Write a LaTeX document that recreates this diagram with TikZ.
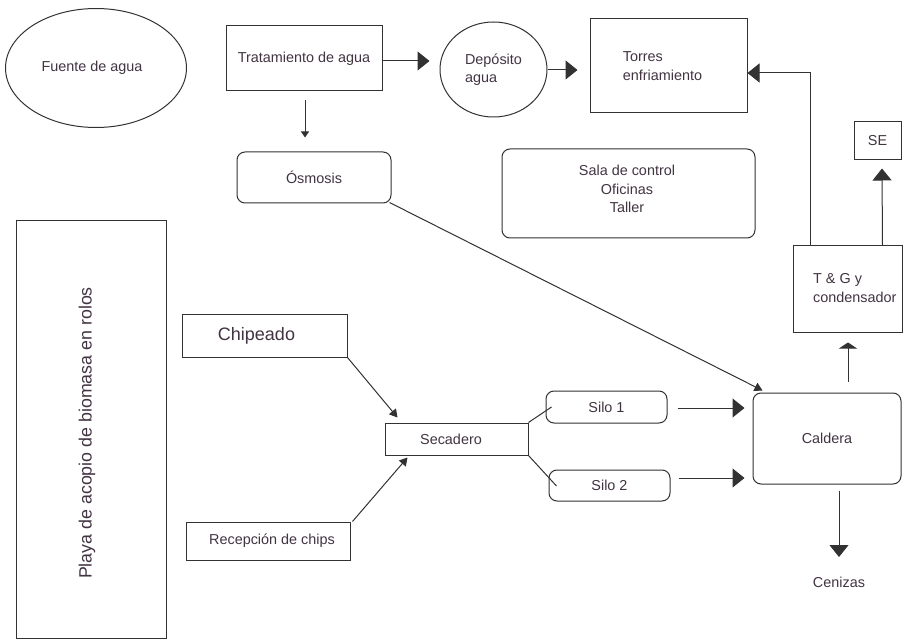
\documentclass[tikz,border=0pt]{standalone}
\usepackage{fontspec}
\setmainfont{Liberation Sans}
\usetikzlibrary{arrows.meta,shapes.geometric,calc}
\definecolor{ln}{RGB}{50,50,50}
\definecolor{tx}{RGB}{66,52,66}
\newcommand{\padR}[1]{\rule{#1}{0pt}}
\begin{document}
\begin{tikzpicture}[x=1pt,y=-1pt,
  every node/.style={font=\fontsize{14.4}{18.5}\selectfont, text=tx},
  box/.style={draw=ln, line width=1pt, rectangle, inner sep=0pt},
  rbox/.style={box, rounded corners=8pt},
  oval/.style={draw=ln, line width=1pt, ellipse, inner sep=0pt},
  lbl/.style={inner sep=0pt},
  con/.style={draw=ln, line width=1pt},
  big/.style={con, -{Triangle[length=12pt,width=19pt]}},
  flat/.style={con, -{Triangle[length=6pt,width=18pt]}},
  small/.style={con, -{Triangle[length=8pt,width=9pt]}},
  tiny/.style={con, -{Triangle[length=6pt,width=8pt]}},
]
\useasboundingbox[fill=white] (0,0) rectangle (903,639);

% nodes
\node[oval, minimum width=181pt, minimum height=119pt] (fuente) at (96,68) {Fuente de agua\padR{8pt}};
\node[box, minimum width=156pt, minimum height=65pt] (trat) at (304,58.5) {Tratamiento de agua};
\node[oval, minimum width=107pt, minimum height=95pt, align=left] (dep) at (493.5,69.5) {Depósito\\agua};
\node[box, minimum width=157pt, minimum height=94pt, align=left] (torres) at (668.5,66) {Torres\\enfriamiento\padR{12pt}};
\node[box, minimum width=47pt, minimum height=38pt] (se) at (877.5,141) {SE};
\node[rbox, minimum width=253pt, minimum height=89pt] (sala) at (628.5,193.5) {};
\node[lbl, align=center] (salat) at (627,189) {Sala de control\\Oficinas\\Taller};
\node[rbox, minimum width=154pt, minimum height=51pt] (osm) at (314,177.5) {Ósmosis};
\node[box, minimum width=150pt, minimum height=417pt] (playa) at (91,429.5) {};
\node[lbl, rotate=90, font=\fontsize{17.8}{20}\selectfont] (playat) at (87,433) {Playa de acopio de biomasa en rolos};
\node[box, minimum width=165pt, minimum height=42pt, font=\fontsize{18}{20}\selectfont] (chip) at (264.5,336) {Chipeado\padR{16pt}};
\node[box, minimum width=164pt, minimum height=38pt] (rec) at (268,541) {\padR{8pt}Recepción de chips};
\node[box, minimum width=143pt, minimum height=32pt] (sec) at (456.5,439) {Secadero\padR{11pt}};
\node[rbox, minimum width=121pt, minimum height=32pt] (silo1) at (606.5,407) {Silo 1};
\node[rbox, minimum width=121pt, minimum height=31pt] (silo2) at (609.5,485.5) {Silo 2};
\node[rbox, minimum width=148pt, minimum height=91pt] (cal) at (827,438.5) {Caldera};
\node[box, minimum width=109pt, minimum height=87pt] (tg) at (847.5,289.5) {};
\node[lbl, align=left, anchor=west] (tgt) at (813,288) {T \& G y\\condensador};
\node[lbl, anchor=base] (cen) at (839,587) {Cenizas};

% connectors
\draw[big] ($(trat.east)+(0,2.5)$) -- ($(dep.west)+(-10,-8.5)$);
\draw[big] ($(dep.east)+(0,0.5)$) -- ($(torres.west)+(-12,4)$);
\draw[tiny] ($(trat.south)+(1,9)$) -- ($(osm.north)+(-9,-14)$);
\draw[small] ($(osm.south east)+(-2,-1)$) -- ($(cal.north west)+(10,-2)$);
\draw[big] ($(tg.north west)+(18,0)$) |- ($(torres.east)+(0,7)$);
\draw[big] ($(tg.north east)+(-20,0)$) -- ($(se.south)+(4.5,8)$);
\draw[flat] ($(cal.north)+(21,-11)$) -- ($(tg.south)+(0.5,9)$);
\draw[big] ($(cal.south)+(12,6)$) -- ($(cen.base)+(0,-30)$);
\draw[big] ($(silo1.east)+(10,1)$) -- ($(cal.west)+(-8,-30.5)$);
\draw[big] ($(silo2.east)+(8,-7.5)$) -- ($(cal.west)+(-8,39.5)$);
\draw[con] (sec.north east) -- ($(silo1.west)+(6,0)$);
\draw[con] (sec.south east) -- ($(silo2.west)+(8,0.5)$);
\draw[small] (chip.south east) -- ($(sec.north west)+(13,-5)$);
\draw[small] ($(rec.north east)+(2,0)$) -- ($(sec.south west)+(23,2)$);
\end{tikzpicture}
\end{document}
